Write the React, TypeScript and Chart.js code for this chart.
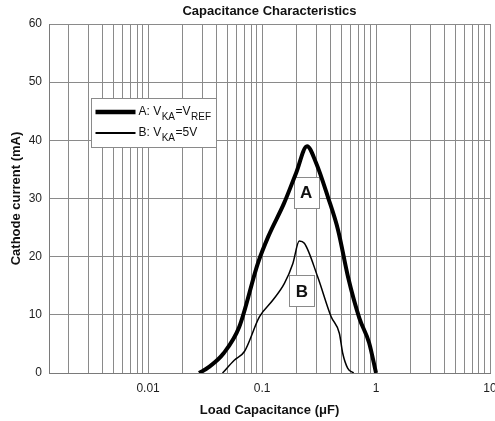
import React, { useEffect, useRef } from "react";
import { Chart, registerables } from "chart.js";

Chart.register(...registerables);

// ---- Text ----
const CHART_TITLE = "Capacitance Characteristics";
const X_TITLE = "Load Capacitance (μF)";
const Y_TITLE = "Cathode current (mA)";

// ---- Series A: V_KA = V_REF ----
const capA = [0.028, 0.034, 0.046, 0.063, 0.092, 0.113, 0.156, 0.199, 0.248, 0.298, 0.379, 0.464, 0.568, 0.715, 0.869, 1.0];
const currentA = [0, 1.0, 3.4, 7.9, 18.9, 23.4, 29.2, 34.4, 39.0, 36.1, 30.2, 24.6, 16.5, 9.4, 5.2, 0];

// ---- Series B: V_KA = 5V ----
const capB = [0.045, 0.057, 0.07, 0.095, 0.124, 0.157, 0.186, 0.212, 0.235, 0.308, 0.403, 0.477, 0.51, 0.565, 0.637];
const currentB = [0, 2.2, 3.7, 9.7, 12.5, 15.4, 18.8, 22.7, 22.3, 16.5, 9.7, 6.8, 3.4, 0.8, 0];

// ---- Axes ----
const X_MIN = 0.00135;
const X_MAX = 10;
const Y_MIN = 0;
const Y_MAX = 60;
const Y_STEP = 10;
const xDecades = [0.001, 0.01, 0.1, 1];
const xMultipliers = [1, 2, 3, 4, 5, 6, 7, 8, 9];
const xLabelValues = [0.01, 0.1, 1, 10];

// ---- Curve tags (data coordinates) ----
const tagText = ["A", "B"];
const tagCap = [0.243, 0.224];
const tagCurrent = [31, 14.1];

// ---- Legend entries ----
const legendA = [
  { t: "A: V", sub: false },
  { t: "KA", sub: true },
  { t: "=V", sub: false },
  { t: "REF", sub: true },
];
const legendB = [
  { t: "B: V", sub: false },
  { t: "KA", sub: true },
  { t: "=5V", sub: false },
];

const FONT = '"Liberation Sans", Arial, Helvetica, sans-serif';
const GRID = "#8a8a8a";
const TEXT = "#1e1e1e";

const overlayPlugin = {
  id: "overlay",
  beforeDatasetsDraw(chart: any) {
    const { ctx, chartArea, scales } = chart;
    const x = scales.x;
    const y = scales.y;
    ctx.save();

    // curve tag boxes
    tagText.forEach((lab, i) => {
      const cx = x.getPixelForValue(tagCap[i]);
      const cy = y.getPixelForValue(tagCurrent[i]);
      const w = 25;
      const h = 31;
      const left = Math.round(cx - w / 2) + 0.5;
      const top = Math.round(cy - h / 2) + 0.5;
      ctx.fillStyle = "#ffffff";
      ctx.fillRect(left, top, w, h);
      ctx.strokeStyle = "#8a8a8a";
      ctx.lineWidth = 1;
      ctx.strokeRect(left, top, w, h);
      ctx.fillStyle = "#111";
      ctx.font = `bold 17px ${FONT}`;
      ctx.textAlign = "center";
      ctx.textBaseline = "middle";
      ctx.fillText(lab, cx, cy + 1);
    });

    // legend box
    const lx = chartArea.left + 42.5;
    const ly = chartArea.top + 74.5;
    const lw = 125;
    const lh = 49;
    ctx.fillStyle = "#ffffff";
    ctx.fillRect(lx, ly, lw, lh);
    ctx.strokeStyle = "#8a8a8a";
    ctx.lineWidth = 1;
    ctx.strokeRect(lx, ly, lw, lh);

    const rows = [
      { parts: legendA, width: 4.5, yy: ly + 13.5 },
      { parts: legendB, width: 1.8, yy: ly + 34.5 },
    ];
    rows.forEach((row) => {
      ctx.strokeStyle = "#000";
      ctx.lineWidth = row.width;
      ctx.beginPath();
      ctx.moveTo(lx + 4, row.yy);
      ctx.lineTo(lx + 44, row.yy);
      ctx.stroke();
      let tx = lx + 47;
      ctx.fillStyle = "#111";
      ctx.textAlign = "left";
      ctx.textBaseline = "middle";
      row.parts.forEach((p) => {
        ctx.font = p.sub ? `10px ${FONT}` : `12px ${FONT}`;
        ctx.fillText(p.t, tx, p.sub ? row.yy + 5 : row.yy);
        tx += ctx.measureText(p.t).width + 0.5;
      });
    });

    ctx.restore();
  },
};

export default function App() {
  const canvasRef = useRef<HTMLCanvasElement | null>(null);

  useEffect(() => {
    const canvas = canvasRef.current;
    if (!canvas) return;
    Chart.defaults.font.family = FONT;

    const chart = new Chart(canvas, {
      type: "line",
      data: {
        datasets: [
          {
            label: "A",
            data: capA.map((c, i) => ({ x: c, y: currentA[i] })),
            borderColor: "#000",
            borderWidth: 4,
            pointRadius: 0,
            cubicInterpolationMode: "monotone",
            fill: false,
          },
          {
            label: "B",
            data: capB.map((c, i) => ({ x: c, y: currentB[i] })),
            borderColor: "#000",
            borderWidth: 1.5,
            pointRadius: 0,
            cubicInterpolationMode: "monotone",
            fill: false,
          },
        ],
      },
      options: {
        animation: false,
        responsive: false,
        devicePixelRatio: 1,
        layout: { padding: { left: 0, right: 5, top: 0, bottom: 0 } },
        plugins: {
          legend: { display: false },
          tooltip: { enabled: false },
          title: {
            display: true,
            text: CHART_TITLE,
            fullSize: false,
            color: "#111",
            font: { size: 13, weight: "bold", family: FONT },
            padding: { top: 4, bottom: 4.4 },
          },
        },
        scales: {
          x: {
            type: "logarithmic",
            min: X_MIN,
            max: X_MAX,
            bounds: "data",
            afterBuildTicks: (scale: any) => {
              const vals: number[] = [];
              xDecades.forEach((d) =>
                xMultipliers.forEach((m) => {
                  const v = +(d * m).toPrecision(4);
                  if (v >= X_MIN && v <= X_MAX) vals.push(v);
                })
              );
              vals.push(X_MAX);
              scale.ticks = vals.map((v) => ({ value: v }));
            },
            afterFit: (scale: any) => {
              scale.paddingLeft = 0;
              scale.paddingRight = 0;
              scale.height = 48;
            },
            grid: { color: GRID, lineWidth: 1, drawTicks: false },
            border: { display: true, color: "#7a7a7a" },
            ticks: {
              autoSkip: false,
              maxRotation: 0,
              minRotation: 0,
              padding: 8,
              color: TEXT,
              font: { size: 12, family: FONT },
              callback: (value: any) => {
                const v = +Number(value).toPrecision(4);
                return xLabelValues.includes(v) ? String(v) : "";
              },
            },
            title: {
              display: true,
              text: X_TITLE,
              color: "#111",
              font: { size: 13, weight: "bold", family: FONT },
              padding: { top: 6.8, bottom: 3.2 },
            },
          },
          y: {
            type: "linear",
            min: Y_MIN,
            max: Y_MAX,
            afterFit: (scale: any) => {
              scale.width = 49;
              scale.paddingTop = 0;
              scale.paddingBottom = 0;
            },
            grid: { color: GRID, lineWidth: 1, drawTicks: false },
            border: { display: true, color: "#7a7a7a" },
            ticks: {
              stepSize: Y_STEP,
              padding: 7,
              color: TEXT,
              font: { size: 12, family: FONT },
            },
            title: {
              display: true,
              text: Y_TITLE,
              color: "#111",
              font: { size: 13, weight: "bold", family: FONT },
              padding: { top: 8.5, bottom: 0 },
            },
          },
        },
      },
      plugins: [overlayPlugin],
    } as any);

    return () => chart.destroy();
  }, []);

  return (
    <div
      style={{
        position: "absolute",
        left: 0,
        top: 0,
        width: 495,
        height: 421,
        overflow: "hidden",
        background: "#fff",
      }}
    >
      <canvas ref={canvasRef} width={495} height={421} style={{ width: 495, height: 421, display: "block" }} />
    </div>
  );
}
